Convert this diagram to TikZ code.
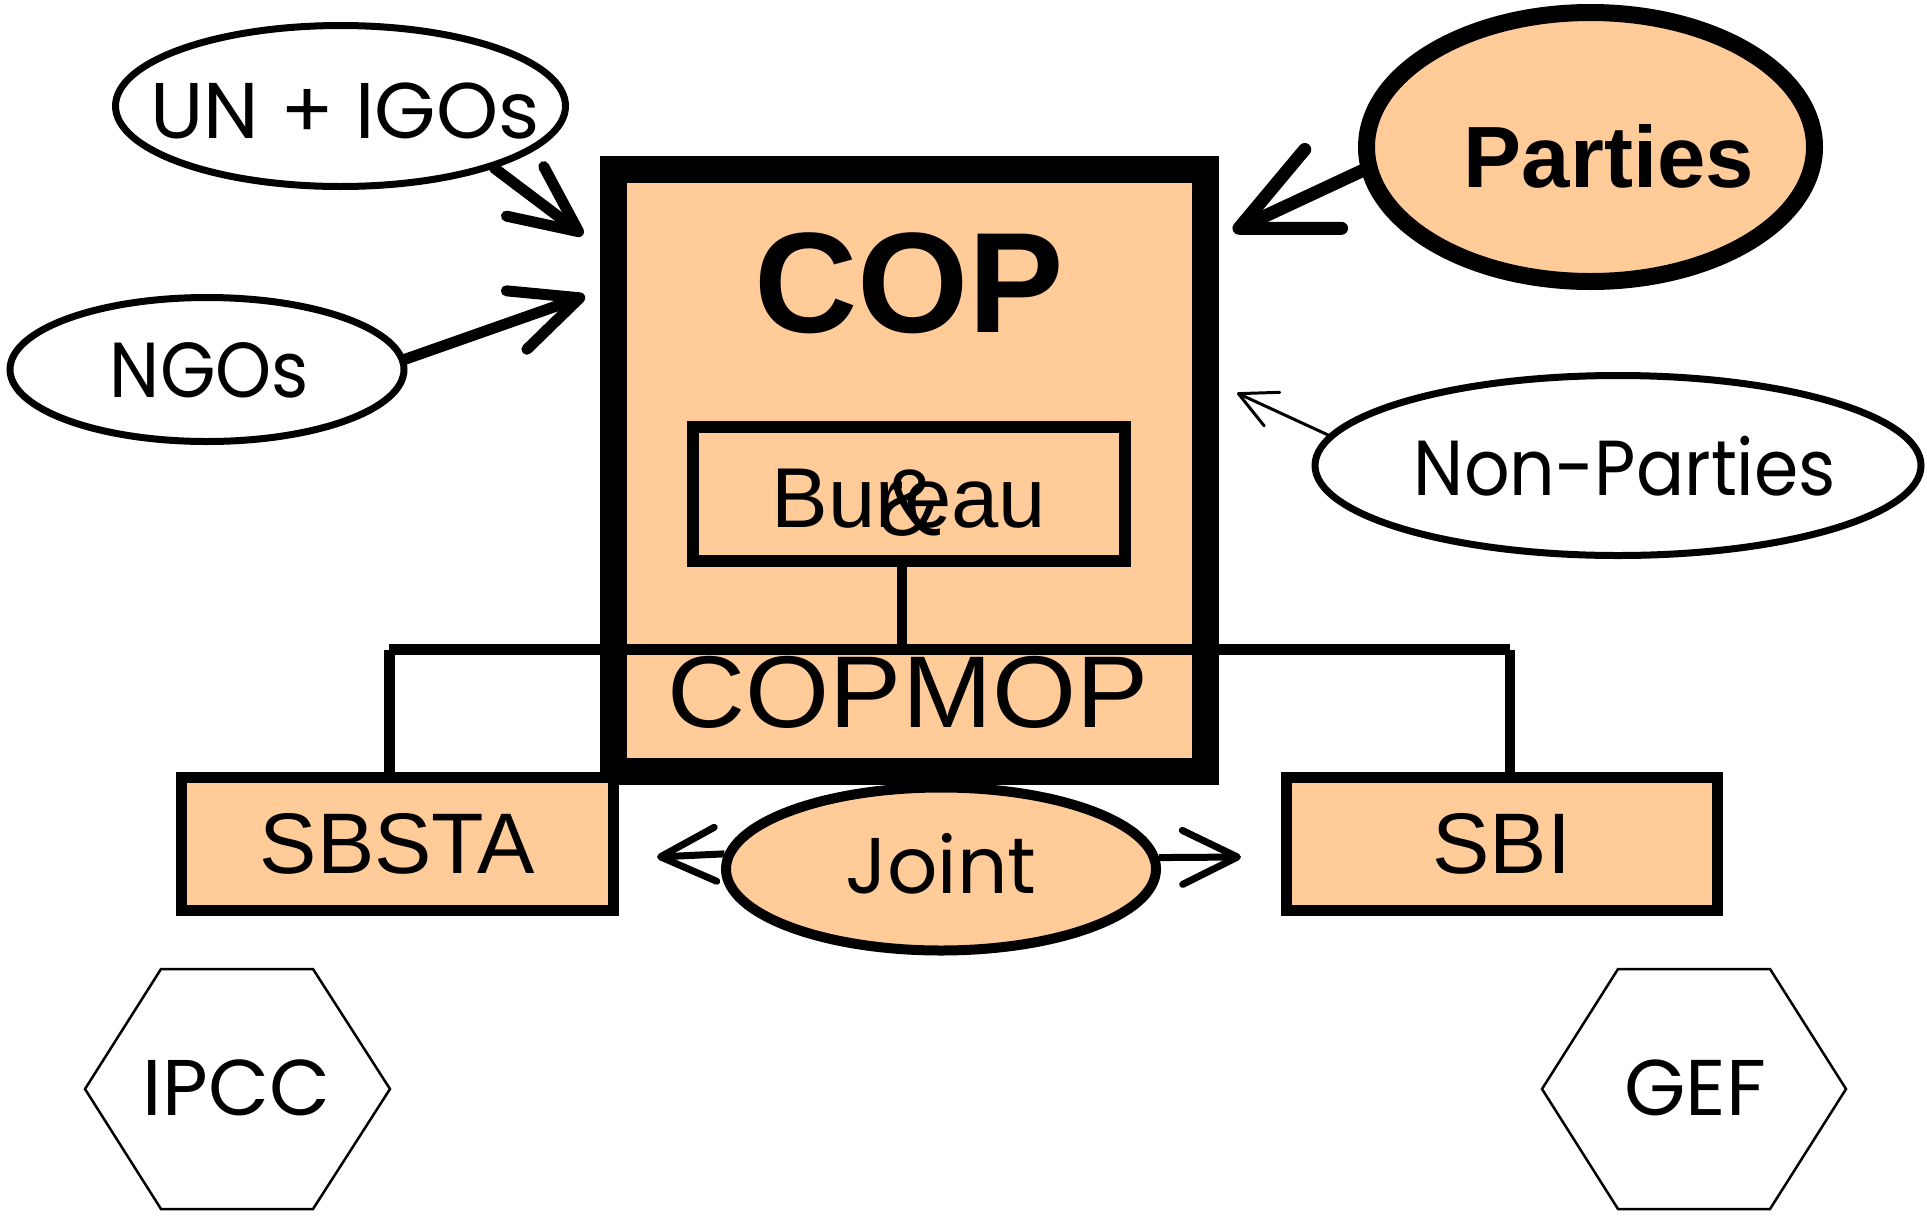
\documentclass[tikz,border=0pt]{standalone}
\usepackage{fontspec}
\setmainfont{Liberation Sans}
\newfontfamily\comicfont{Poppins}
\newfontfamily\comicnarrow{Poppins}[FakeStretch=0.915]
\newfontfamily\widesans{Liberation Sans}[FakeStretch=1.06]
\usetikzlibrary{shapes.geometric,arrows.meta,calc}
\definecolor{peach}{HTML}{FFCC99}
\newcommand{\fsz}[1]{\fontsize{#1pt}{#1pt}\selectfont}
\begin{document}
\begin{tikzpicture}[x=1pt,y=-1pt,
  box/.style={draw, fill=peach, rectangle, inner sep=0pt},
  oval/.style={draw, ellipse, inner sep=0pt},
  hand/.style={font=\comicfont\fsz{#1}, anchor=base, inner sep=0pt},
  handn/.style={font=\comicnarrow\fsz{#1}, anchor=base, inner sep=0pt},
  helv/.style={font=\fsz{#1}, anchor=base, inner sep=0pt},
  helvb/.style={font=\bfseries\fsz{#1}, anchor=base, inner sep=0pt},
  hexa/.style={draw, line width=2.5pt, line join=miter},
  arrowP/.style={line width=13pt, line cap=round, -{Straight Barb[length=93pt,width=87pt,round]}},
  arrowU/.style={line width=11pt, line cap=round, -{Straight Barb[length=67pt,width=62pt,round]}},
  arrowJ/.style={line width=7pt, -{Straight Barb[length=55pt,width=54pt,round]}},
  arrowN/.style={line width=3pt, -{Straight Barb[length=37pt,width=37pt,round]}}
]
\useasboundingbox (0,0) rectangle (1927,1216);
\fill[white] (0,0) rectangle (1927,1216);

% Joint (under COP)
\node[oval, fill=peach, line width=10pt, minimum width=430, minimum height=163] (joint) at (941,869) {};
\node[hand=79] (jointtxt) at (941,893) {Joint};

% COP box
\node[box, line width=27pt, minimum width=592, minimum height=602] (cop) at (909.5,470.5) {};
\node[helvb=143] (coptxt) at (909,332.5) {COP};
\node[draw, rectangle, inner sep=0pt, line width=12.5pt, minimum width=432, minimum height=134] (bureau) at (909,494) {};
\node[helv=85] (bureautxt) at (909,527.5) {Bureau};
\node[helv=95] (amp) at (910,535) {\&};
\node[font=\widesans\fsz{102}, anchor=base, inner sep=0pt] (copmop) at (908,727.5) {COPMOP};

% subsidiary bodies
\node[box, line width=11pt, minimum width=432, minimum height=133, font=\fsz{86}] (sbsta) at (397.5,844) {SBSTA};
\node[box, line width=11pt, minimum width=431.5, minimum height=133, font=\fsz{86}] (sbi) at (1501.75,844) {SBI};

% tree connectors
\coordinate (barL) at (389,649.5);
\coordinate (barR) at (1509.5,649.5);
\draw[line width=11pt] (barL) -- (barR);
\draw[line width=11pt] (barL) -- (barL |- sbsta.north);
\draw[line width=10pt] (barR) -- (barR |- sbi.north);
\coordinate (bv) at ([xshift=-7pt]bureau.south);
\draw[line width=10pt] (bv) -- (bv |- barL);

% outside actors
\node[oval, line width=7pt, minimum width=450, minimum height=161] (un) at (340.5,106) {};
\node[hand=79] (untxt) at (345,138) {UN + IGOs};
\node[oval, line width=7pt, minimum width=394, minimum height=144] (ngo) at (207,369.5) {};
\node[handn=78] (ngotxt) at (209.5,397) {NGOs};
\node[oval, fill=peach, line width=17pt, minimum width=448, minimum height=269] (parties) at (1590.5,147) {};
\node[helvb=87] (partiestxt) at (1609,187) {Parties};
\node[oval, line width=7pt, minimum width=606, minimum height=180] (nonp) at (1618,465.5) {};
\node[handn=78] (nonptxt) at (1625,495) {Non-Parties};

% arrows
\coordinate (untip) at (583,235);
\coordinate (ngotip) at (585,296);
\coordinate (ptip) at (1233,231);
\coordinate (nptip) at (1237,393);
\coordinate (jl) at (657,857);
\coordinate (jr) at (1241,857);
\draw[arrowU] (un.-22) -- (untip);
\draw[arrowU] (ngo.3) -- (ngotip);
\draw[arrowP] (parties.186) -- (ptip);
\draw[arrowN] (nonp.174) -- (nptip);
\draw[arrowJ] (joint.176.5) -- (jl);
\draw[arrowJ] (joint.3.5) -- (jr);

% hexagons
\node[hand=79] (ipcc) at (236.5,1115) {IPCC};
\draw[hexa] (85,1089) -- (161,969) -- (313,969) -- (390,1089) -- (313,1209) -- (161,1209) -- cycle;
\node[hand=79] (gef) at (1695,1115) {GEF};
\draw[hexa] (1542,1089) -- (1618,969) -- (1770,969) -- (1846,1089) -- (1770,1209) -- (1618,1209) -- cycle;
\end{tikzpicture}
\end{document}
